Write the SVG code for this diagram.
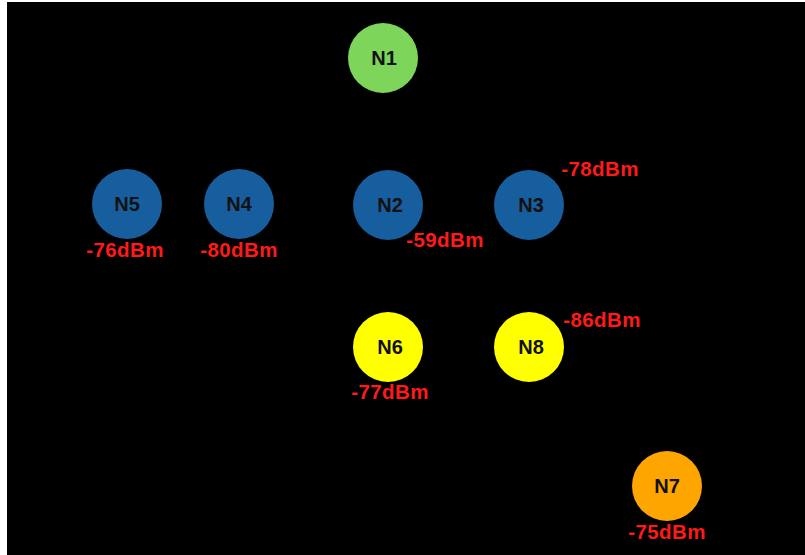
<svg xmlns="http://www.w3.org/2000/svg" width="805" height="555" viewBox="0 0 805 555">
  <style>
    .node-label { font-family: "Liberation Sans", Arial, sans-serif; font-weight: bold; font-size: 20px; fill: #111; text-anchor: middle; }
    .rssi { font-family: "Liberation Sans", Arial, sans-serif; font-weight: bold; font-size: 20.5px; letter-spacing: 0.4px; fill: #ff1a1a; text-anchor: middle; }
    .green { fill: #7dd65a; }
    .blue { fill: #175e9f; }
    .yellow { fill: #ffff00; }
    .orange { fill: #ffa500; }
  </style>
  <rect x="0" y="0" width="805" height="555" fill="#ffffff"/>
  <rect x="7" y="2" width="798" height="553" fill="#000000"/>

  <g id="connectors"></g>

  <g id="N1">
    <circle class="green" cx="383" cy="58" r="35"/>
    <text class="node-label" x="384" y="65">N1</text>
  </g>
  <g id="N5">
    <circle class="blue" cx="127" cy="204" r="35"/>
    <text class="node-label" x="127" y="211">N5</text>
    <text class="rssi" x="125" y="257">-76dBm</text>
  </g>
  <g id="N4">
    <circle class="blue" cx="239" cy="204" r="35"/>
    <text class="node-label" x="239" y="211">N4</text>
    <text class="rssi" x="239" y="257">-80dBm</text>
  </g>
  <g id="N2">
    <circle class="blue" cx="388" cy="205" r="35"/>
    <text class="node-label" x="390" y="212">N2</text>
    <text class="rssi" x="445" y="247">-59dBm</text>
  </g>
  <g id="N3">
    <circle class="blue" cx="529" cy="205" r="35"/>
    <text class="node-label" x="531" y="212">N3</text>
    <text class="rssi" x="600" y="176">-78dBm</text>
  </g>
  <g id="N6">
    <circle class="yellow" cx="388" cy="347" r="35"/>
    <text class="node-label" x="390" y="354">N6</text>
    <text class="rssi" x="390" y="399">-77dBm</text>
  </g>
  <g id="N8">
    <circle class="yellow" cx="529" cy="347" r="35"/>
    <text class="node-label" x="531" y="354">N8</text>
    <text class="rssi" x="602" y="327">-86dBm</text>
  </g>
  <g id="N7">
    <circle class="orange" cx="667" cy="486" r="35"/>
    <text class="node-label" x="667" y="493">N7</text>
    <text class="rssi" x="667" y="539">-75dBm</text>
  </g>
</svg>
